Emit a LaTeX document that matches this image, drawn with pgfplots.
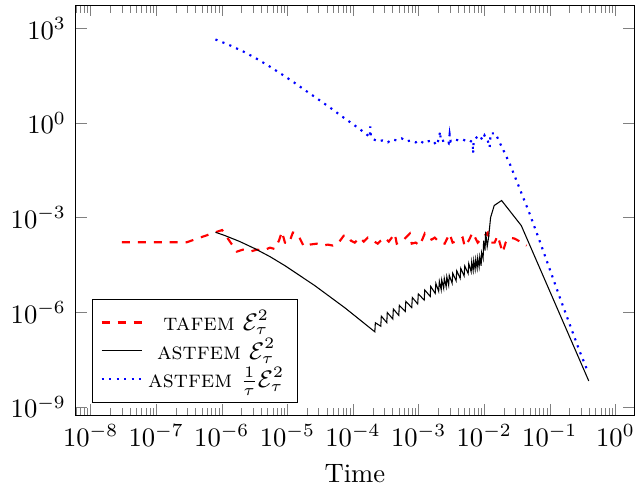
\documentclass[border=0pt]{standalone}
\usepackage{pgfplots}
\pgfplotsset{compat=1.18}

\begin{document}
\begin{tikzpicture}
\begin{axis}[
  xmode=log, ymode=log,
  scale only axis,
  width=210pt, height=154pt,
  xmin=5.85e-9, xmax=1.95,
  ymin=5.5e-10, ymax=5.5e3,
  xlabel={Time},
  legend pos=south west,
  legend cell align=center,
  legend style={font=\small, row sep=-2.5pt},
  legend image code/.code={%
    \draw[mark repeat=2,mark phase=2]
      plot coordinates {(0cm,0cm) (0.265cm,0cm) (0.53cm,0cm)};},
]
% TAFEM error indicator
\addplot[red, dashed, thick] coordinates {
(2.99e-8,1.66e-4) (9.62e-8,1.66e-4) (2.92e-7,1.66e-4) (4.66e-7,2.33e-4)
(8.0e-7,3.44e-4) (1.01e-6,4.04e-4) (1.33e-6,1.74e-4) (1.69e-6,8.38e-5)
(2.10e-6,9.70e-5) (2.69e-6,8.38e-5) (3.44e-6,9.70e-5) (4.24e-6,9.01e-5)
(5.42e-6,1.12e-4) (6.45e-6,1.01e-4) (7.43e-6,1.87e-4) (8.24e-6,3.62e-4)
(9.16e-6,1.62e-4) (1.05e-5,1.50e-4) (1.21e-5,3.37e-4) (1.40e-5,3.13e-4)
(1.55e-5,2.17e-4) (1.78e-5,1.21e-4) (2.20e-5,1.40e-4) (2.81e-5,1.50e-4)
(3.47e-5,1.30e-4) (4.13e-5,1.40e-4) (4.93e-5,1.30e-4) (5.87e-5,1.50e-4)
(7.24e-5,2.70e-4) (8.34e-5,2.70e-4) (9.27e-5,1.87e-4) (1.06e-4,1.62e-4)
(1.27e-4,2.33e-4) (1.46e-4,1.74e-4) (1.68e-4,2.33e-4) (2.00e-4,1.87e-4)
(2.38e-4,1.50e-4) (2.65e-4,1.87e-4) (3.05e-4,2.33e-4) (3.51e-4,1.74e-4)
(4.33e-4,3.13e-4) (4.64e-4,1.50e-4) (5.73e-4,1.87e-4) (7.32e-4,3.13e-4)
(7.85e-4,1.50e-4) (9.03e-4,1.62e-4) (1.04e-3,1.30e-4) (1.24e-3,3.13e-4)
(1.38e-3,2.33e-4) (1.58e-3,2.02e-4) (1.76e-3,2.33e-4) (2.09e-3,1.62e-4)
(2.49e-3,1.50e-4) (2.97e-3,3.13e-4) (3.30e-3,1.62e-4) (3.94e-3,1.87e-4)
(4.69e-3,2.33e-4) (5.04e-3,1.21e-4) (5.79e-3,1.87e-4) (6.65e-3,3.37e-4)
(7.40e-3,2.17e-4) (7.94e-3,1.62e-4) (9.46e-3,2.33e-4) (1.13e-2,3.37e-4)
(1.21e-2,1.62e-4) (1.44e-2,1.62e-4) (1.60e-2,2.70e-4) (1.91e-2,7.79e-5)
(2.12e-2,1.62e-4) (2.44e-2,2.33e-4) (2.90e-2,2.17e-4) (3.67e-2,1.66e-4)
(4.42e-2,1.30e-4)
};
\addlegendentry{\textsc{tafem} $\mathcal{E}_\tau^2$}

% ASTFEM error indicator
\addplot[black] coordinates {
(8.0e-7,3.44e-4) (1.12e-6,2.70e-4) (1.89e-6,1.74e-4) (3.20e-6,1.04e-4)
(5.42e-6,5.81e-5) (9.16e-6,3.01e-5) (1.55e-5,1.45e-5) (2.62e-5,6.97e-6)
(4.44e-5,3.11e-6) (7.50e-5,1.39e-6) (1.27e-4,5.78e-7)
(2.15e-4,2.40e-7) (2.19e-4,4.65e-7)
(2.65e-4,3.62e-7) (2.70e-4,7.53e-7)
(3.27e-4,4.71e-7) (3.33e-4,9.80e-7)
(4.04e-4,6.14e-7) (4.12e-4,1.27e-6)
(4.98e-4,7.98e-7) (5.08e-4,1.66e-6)
(6.25e-4,1.06e-6) (6.38e-4,2.21e-6)
(7.85e-4,1.41e-6) (8.02e-4,2.94e-6)
(9.68e-4,1.84e-6) (9.89e-4,3.82e-6)
(1.216e-3,2.44e-6) (1.24e-3,5.08e-6)
(1.503e-3,3.18e-6) (1.53e-3,6.61e-6)
(1.79e-3,3.96e-6) (1.83e-3,8.24e-6)
(2.02e-3,4.62e-6) (2.07e-3,9.61e-6)
(2.21e-3,5.16e-6) (2.25e-3,1.07e-5)
(2.41e-3,5.75e-6) (2.46e-3,1.20e-5)
(2.63e-3,6.43e-6) (2.69e-3,1.34e-5)
(2.87e-3,7.17e-6) (2.93e-3,1.49e-5)
(3.24e-3,8.36e-6) (3.31e-3,1.74e-5)
(3.73e-3,9.96e-6) (3.81e-3,2.07e-5)
(4.30e-3,1.19e-5) (4.39e-3,2.47e-5)
(4.94e-3,1.42e-5) (5.05e-3,2.94e-5)
(5.69e-3,1.69e-5) (5.81e-3,3.51e-5)
(6.32e-3,1.92e-5) (6.45e-3,4.00e-5)
(6.78e-3,2.10e-5) (6.92e-3,4.37e-5)
(7.27e-3,2.30e-5) (7.43e-3,4.77e-5)
(7.80e-3,2.51e-5) (7.96e-3,5.21e-5)
(8.36e-3,2.74e-5) (8.55e-3,5.69e-5)
(8.97e-3,2.99e-5) (9.12e-3,7.79e-5)
(9.62e-3,5.02e-5) (9.79e-3,1.87e-4)
(1.03e-2,9.01e-5) (1.05e-2,3.62e-4)
(1.11e-2,1.21e-4) (1.17e-2,2.51e-4)
(1.25e-2,1.01e-3) (1.42e-2,2.43e-3) (1.84e-2,3.50e-3) (3.67e-2,5.61e-4)
(0.392,6.67e-9)
};
\addlegendentry{\textsc{astfem} $\mathcal{E}_\tau^2$}

% ASTFEM indicator scaled by the time step
\addplot[blue, dotted, thick] coordinates {
(8.0e-7,446.7) (1.318e-6,294) (2.12e-6,185.8) (3.35e-6,111.3)
(5.28e-6,63.4) (8.17e-6,35.3) (1.268e-5,19.2) (1.93e-5,10.4)
(2.99e-5,5.54) (4.55e-5,3.0) (6.76e-5,1.63) (1.03e-4,0.877)
(1.57e-4,0.46) (1.80e-4,0.351) (1.83e-4,0.785) (1.87e-4,0.378)
(2.07e-4,0.303) (2.38e-4,0.262) (2.84e-4,0.282) (3.39e-4,0.244)
(3.90e-4,0.303) (4.64e-4,0.282) (5.53e-4,0.326) (6.59e-4,0.262)
(7.59e-4,0.282) (9.03e-4,0.244) (1.04e-3,0.282) (1.20e-3,0.226)
(1.38e-3,0.262) (1.64e-3,0.282) (1.88e-3,0.196) (2.02e-3,0.303)
(2.13e-3,0.545) (2.17e-3,0.262) (2.49e-3,0.282) (2.87e-3,0.226)
(2.97e-3,0.437) (3.08e-3,0.262) (3.54e-3,0.303) (4.07e-3,0.282)
(4.69e-3,0.303) (5.40e-3,0.262) (6.00e-3,0.282) (6.65e-3,0.244)
(6.77e-3,0.109) (6.90e-3,0.262) (7.66e-3,0.351) (8.51e-3,0.407)
(9.46e-3,0.282) (1.01e-2,0.407) (1.13e-2,0.282) (1.21e-2,0.169)
(1.25e-2,0.471) (1.49e-2,0.471) (1.66e-2,0.282) (2.44e-2,0.0524)
(3.46e-2,8.41e-3) (4.91e-2,1.35e-3) (6.97e-2,1.87e-4) (9.89e-2,2.42e-5)
(0.1406,3.11e-6) (0.1995,4.32e-7) (0.283,5.99e-8) (0.381,1.29e-8)
};
\addlegendentry{\textsc{astfem} $\frac{1}{\tau}\mathcal{E}_\tau^2$}
\end{axis}
% page frame: labels on the left and below, axis edge on the right
\pgfresetboundingbox
\useasboundingbox ([xshift=-28.3pt,yshift=-27pt]current axis.south west)
  rectangle ([xshift=0.2pt,yshift=1.9pt]current axis.north east);
\end{tikzpicture}
\end{document}
